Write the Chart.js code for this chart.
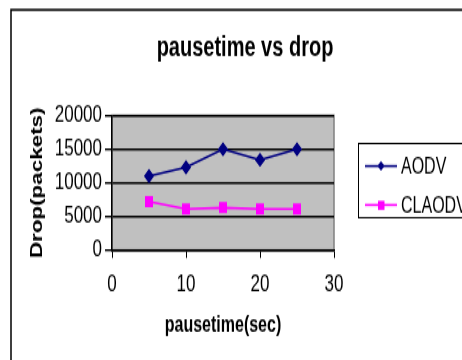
<!DOCTYPE html>
<html>
<head>
<meta charset="utf-8">
<script src="https://cdn.jsdelivr.net/npm/chart.js@4.4.0/dist/chart.umd.min.js"></script>
<style>
  html, body { margin: 0; padding: 0; background: #fff; overflow: hidden; width: 462px; height: 360px; }
  /* the source picture is stretched vertically, so the chart is drawn short and scaled up */
  #wrap { width: 462px; height: 258px; transform: scaleY(1.4); transform-origin: 0 0; }
</style>
</head>
<body>
<div id="wrap"><canvas id="dropChart" width="462" height="258"></canvas></div>
<script>
// pause time (sec) on x, drop (packets) on y
const pauseTimes = [5, 10, 15, 20, 25];
const aodvDrop = [11000, 12300, 15000, 13400, 15000];
const claodvDrop = [7200, 6100, 6300, 6100, 6100];
const seriesNames = ['AODV', 'CLAODV'];
const chartTitle = 'pausetime vs drop';

const FONT = "'Liberation Sans', Arial, sans-serif";

// gray plot area, outer frame, title and the old-style legend box
const frameAndBackground = {
    id: 'frameAndBackground',
    beforeDraw(chart) {
        const { ctx, chartArea: a } = chart;
        ctx.save();
        ctx.fillStyle = '#fff';
        ctx.fillRect(0, 0, chart.width, chart.height);
        ctx.fillStyle = '#c0c0c0';
        ctx.fillRect(a.left, a.top, a.right - a.left, a.bottom - a.top);
        ctx.strokeStyle = '#808080';
        ctx.lineWidth = 1.5;
        ctx.strokeRect(a.left, a.top, a.right - a.left, a.bottom - a.top);
        ctx.strokeStyle = '#000';
        ctx.lineWidth = 1.5;
        ctx.beginPath();
        ctx.moveTo(11, chart.height);
        ctx.lineTo(11, 7);
        ctx.lineTo(chart.width, 7);
        ctx.stroke();
        ctx.fillStyle = '#000';
        ctx.font = 'bold 20px ' + FONT;
        ctx.textAlign = 'center';
        ctx.textBaseline = 'middle';
        ctx.fillText(chartTitle, 245, 34);
        ctx.restore();
    },
    afterDraw(chart) {
        const ctx = chart.ctx;
        ctx.save();
        ctx.strokeStyle = '#000';
        ctx.lineWidth = 1;
        ctx.strokeRect(358.5, 102.5, 120, 53);
        ctx.font = '16px ' + FONT;
        ctx.textBaseline = 'middle';
        const rows = [118.6, 146.4];
        chart.data.datasets.forEach((ds, i) => {
            const y = rows[i];
            ctx.strokeStyle = ds.borderColor;
            ctx.lineWidth = ds.borderWidth;
            ctx.beginPath();
            ctx.moveTo(365, y);
            ctx.lineTo(397, y);
            ctx.stroke();
            ctx.fillStyle = ds.borderColor;
            if (ds.pointStyle === 'rectRot') {
                ctx.beginPath();
                ctx.moveTo(381, y - 3.5);
                ctx.lineTo(384.5, y);
                ctx.lineTo(381, y + 3.5);
                ctx.lineTo(377.5, y);
                ctx.closePath();
                ctx.fill();
            } else {
                ctx.fillRect(378, y - 3, 6.5, 6.5);
            }
            ctx.fillStyle = '#000';
            ctx.fillText(ds.label, 401, y + 1);
        });
        ctx.restore();
    }
};

const chart = new Chart(document.getElementById('dropChart'), {
    type: 'line',
    data: {
        labels: pauseTimes,
        datasets: [{
            label: seriesNames[0],
            data: pauseTimes.map((x, i) => ({ x: x, y: aodvDrop[i] })),
            borderColor: '#000080',
            backgroundColor: '#000080',
            borderWidth: 1.6,
            pointStyle: 'rectRot',
            pointRadius: 4,
            pointHoverRadius: 4,
            tension: 0
        }, {
            label: seriesNames[1],
            data: pauseTimes.map((x, i) => ({ x: x, y: claodvDrop[i] })),
            borderColor: '#ff00ff',
            backgroundColor: '#ff00ff',
            borderWidth: 1.6,
            pointStyle: 'rect',
            pointRadius: 4.5,
            pointHoverRadius: 4.5,
            tension: 0
        }]
    },
    options: {
        responsive: false,
        animation: false,
        devicePixelRatio: 1,
        layout: {
            padding: { left: 0, right: 128, top: 82.5, bottom: 0 }
        },
        scales: {
            x: {
                type: 'linear',
                min: 0,
                max: 30,
                afterFit: function(scale) { scale.height = 79.4; },
                ticks: {
                    stepSize: 10,
                    color: '#000',
                    padding: 9,
                    font: { family: FONT, size: 17 }
                },
                grid: {
                    drawOnChartArea: false,
                    color: '#000',
                    tickColor: '#000',
                    tickLength: 5.7
                },
                border: { color: '#000', width: 1.5 },
                title: {
                    display: true,
                    text: 'pausetime(sec)',
                    color: '#000',
                    font: { family: FONT, size: 16, weight: 'bold' },
                    padding: { top: 0, bottom: 16 }
                }
            },
            y: {
                min: 0,
                max: 20000,
                afterFit: function(scale) { scale.width = 112; },
                ticks: {
                    stepSize: 5000,
                    color: '#000',
                    padding: 3,
                    font: { family: FONT, size: 17 },
                    callback: function(value) { return String(value); }
                },
                grid: {
                    color: '#000',
                    lineWidth: 1.4,
                    tickColor: '#000',
                    tickLength: 7
                },
                border: { color: '#000', width: 1.5 },
                title: {
                    display: true,
                    text: 'Drop(packets)',
                    color: '#000',
                    font: { family: FONT, size: 16, weight: 'bold' },
                    padding: { top: 28, bottom: 0 }
                }
            }
        },
        plugins: {
            legend: { display: false },
            tooltip: { enabled: false },
            title: { display: false }
        }
    },
    plugins: [frameAndBackground]
});
</script>
</body>
</html>
